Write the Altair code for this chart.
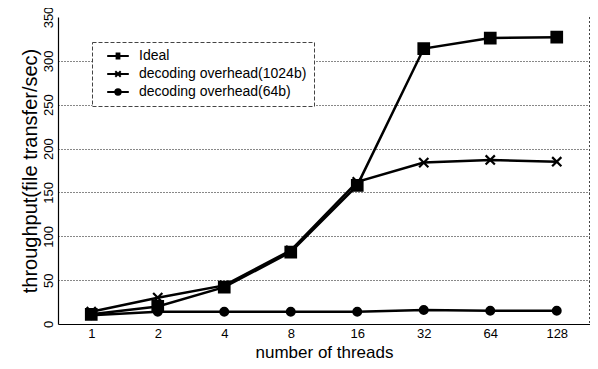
import altair as alt
import pandas as pd

threads = ["1", "2", "4", "8", "16", "32", "64", "128"]
series_names = ["Ideal", "decoding overhead(1024b)", "decoding overhead(64b)"]
ideal = [11, 20, 42, 82, 158, 314, 326, 327]
dec1024 = [14, 30, 44, 84, 162, 184, 187, 185]
dec64 = [10, 14, 14, 14, 14, 16, 15, 15]
y_ticks = [0, 50, 100, 150, 200, 250, 300, 350]

rows = []
for name, vals in zip(series_names, [ideal, dec1024, dec64]):
    for t, v in zip(threads, vals):
        rows.append({"threads": t, "series": name, "legend_series": name, "value": v})
df = pd.DataFrame(rows)

W, H = 532, 307
FONT = "Liberation Sans"
XPATH = "M-1,-1L1,1M-1,1L1,-1"
# legend glyphs drawn with strokes only: a line segment with the series marker in the middle
LEG_SQUARE = ("M-1.8,0H1.8"
              "M-0.4,-0.4H0.4M-0.4,-0.2H0.4M-0.4,0.2H0.4M-0.4,0.4H0.4")
LEG_X = "M-1.8,0H1.8M-0.45,-0.45L0.45,0.45M-0.45,0.45L0.45,-0.45"
LEG_CIRCLE = ("M-1.8,0H1.8"
              "M0.45,0A0.45,0.45 0 1,1 -0.45,0A0.45,0.45 0 1,1 0.45,0"
              "M0.15,0A0.15,0.15 0 1,1 -0.15,0A0.15,0.15 0 1,1 0.15,0")

x_enc = alt.X(
    "threads:O",
    sort=threads,
    scale=alt.Scale(type="point", padding=0.5),
    axis=alt.Axis(
        title="number of threads",
        labelAngle=0,
        labelFont=FONT,
        labelFontSize=13,
        labelColor="black",
        labelPadding=3,
        ticks=False,
        domainColor="black",
        domainWidth=1.2,
        grid=False,
        titleFont=FONT,
        titleFontSize=17,
        titleFontWeight="normal",
        titleColor="black",
        titleY=33,
        titleBaseline="alphabetic",
    ),
)
y_enc = alt.Y(
    "value:Q",
    scale=alt.Scale(domain=[0, 350], nice=False),
    axis=alt.Axis(
        title="throughput(file transfer/sec)",
        values=y_ticks,
        labelAngle=270,
        labelAlign="center",
        labelBaseline="bottom",
        labelFont=FONT,
        labelFontSize=13,
        labelColor="black",
        labelPadding=3,
        ticks=False,
        domainColor="black",
        domainWidth=1.2,
        grid=True,
        gridColor="#111",
        gridDash=[1, 2],
        gridWidth=1,
        gridOpacity={"condition": {"test": "datum.value >= 350 || datum.value <= 0", "value": 0}, "value": 1},
        titleFont=FONT,
        titleFontSize=20,
        titleFontWeight="normal",
        titleColor="black",
        titlePadding=2,
    ),
)

lines = alt.Chart(df).mark_line(color="black", strokeWidth=2.5).encode(
    x=x_enc, y=y_enc, detail="series:N"
)

points = alt.Chart(df).mark_point(
    filled=True, fill="black", stroke="black", strokeWidth=2.2, opacity=1
).encode(
    x=x_enc,
    y=y_enc,
    shape=alt.Shape(
        "series:N",
        scale=alt.Scale(domain=series_names, range=["square", XPATH, "circle"]),
        legend=None,
    ),
    size=alt.Size(
        "series:N",
        scale=alt.Scale(domain=series_names, range=[110, 60, 80]),
        legend=None,
    ),
)

# layer used only to carry the legend (its marks sit outside the view)
legend_layer = alt.Chart(df).mark_point(
    color="black", strokeWidth=2, opacity=1, clip=True
).encode(
    x=x_enc,
    y=alt.value(-600),
    shape=alt.Shape(
        "legend_series:N",
        scale=alt.Scale(domain=series_names, range=[LEG_SQUARE, LEG_X, LEG_CIRCLE]),
        legend=alt.Legend(
            title=None,
            orient="none",
            legendX=34,
            legendY=25,
            labelFont=FONT,
            labelFontSize=14,
            labelColor="black",
            labelLimit=0,
            symbolSize=144,
            symbolStrokeWidth=2,
            symbolStrokeColor="black",
            symbolOpacity=1,
            symbolOffset=12,
            labelOffset=14,
            rowPadding=4,
            padding=7,
            fillColor="white",
            strokeColor="#444",
        ),
    ),
)

right_border = alt.Chart(df).mark_rule(color="#444", strokeDash=[2, 2], strokeWidth=1).encode(
    x=alt.value(W), y=alt.value(0), y2=alt.value(H)
)

chart = (
    alt.layer(lines, points, legend_layer, right_border)
    .resolve_scale(shape="independent", size="independent")
    .properties(
        width=W,
        height=H,
        autosize=alt.AutoSizeParams(type="none"),
        padding={"left": 50, "top": 9, "right": 0, "bottom": 37},
        background="white",
    )
    .configure_view(strokeWidth=0)
    .configure_legend(strokeDash=[4, 2], strokeWidth=1)
)

chart.save("out.html", embed_options={"renderer": "svg", "actions": False})
